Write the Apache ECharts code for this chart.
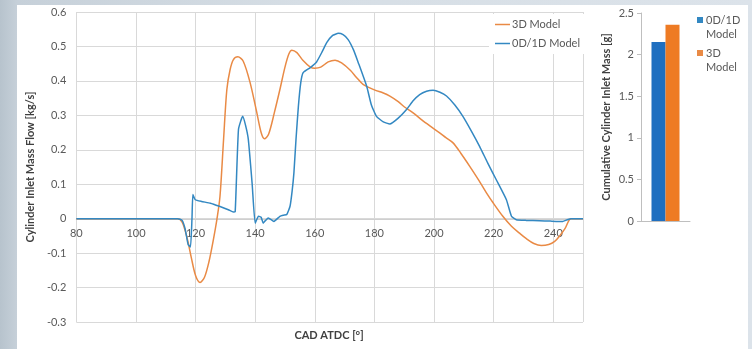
<!DOCTYPE html>
<html>
<head>
<meta charset="utf-8">
<script src="https://cdn.jsdelivr.net/npm/echarts@6/dist/echarts.min.js"></script>
<style>
	html, body { margin: 0; padding: 0; width: 752px; height: 349px; overflow: hidden; }
	body { background: linear-gradient(to right, #b7c3cd 0px, #c6d0d9 17px, #d6dee5 300px, #dce3ea 752px); }
	#echart1 { position: absolute; left: 17px; top: 5px; width: 731px; height: 344px; background: #ffffff; }
</style>
</head>
<body>
<div id="echart1"></div>
<script>
// 3D 模型曲线 (CAD, kg/s)
var cad3d = [80, 114, 115.5, 117, 118.5, 120, 121.5, 123, 124.5, 126, 127.2, 128.2, 129.4, 130.5, 131.6, 132.7, 134.2, 136, 138.3, 140.5, 142, 143.1, 144.5, 146.5, 148.3, 150, 151.3, 152.3, 154, 156, 158.4, 160, 162, 164.5, 166.8, 169, 172, 174, 176.2, 180, 183, 185.2, 188, 190, 193, 196, 198.5, 201.9, 204, 206.4, 209, 212, 215, 217.6, 220, 223.1, 226, 228.7, 231, 233.5, 236, 238.5, 240.5, 242.1, 244, 246, 250];
var flow3d = [0, 0, -0.01, -0.05, -0.11, -0.165, -0.185, -0.17, -0.125, -0.06, 0, 0.065, 0.23, 0.375, 0.433, 0.462, 0.47, 0.457, 0.395, 0.31, 0.25, 0.232, 0.245, 0.31, 0.375, 0.44, 0.478, 0.489, 0.482, 0.46, 0.441, 0.437, 0.44, 0.455, 0.46, 0.452, 0.43, 0.41, 0.39, 0.374, 0.365, 0.356, 0.34, 0.325, 0.307, 0.286, 0.27, 0.249, 0.235, 0.22, 0.19, 0.152, 0.112, 0.075, 0.044, 0.007, -0.022, -0.042, -0.058, -0.072, -0.078, -0.075, -0.066, -0.051, -0.028, 0, 0];

// 0D/1D 模型曲线
var cad1d = [80, 114, 115.5, 116.5, 117.5, 118.3, 118.8, 119.1, 119.9, 122, 125, 128, 131, 132.7, 133.3, 134.4, 135.8, 136.8, 137.7, 139, 140, 141.1, 142, 142.7, 143.5, 144.4, 146.3, 148.3, 149.5, 150.6, 151.7, 152.4, 153, 153.7, 154.5, 155.3, 156.1, 158.4, 160.6, 162.5, 164, 166, 167.9, 169.5, 171.2, 173, 174.6, 177.4, 179, 180.7, 183, 185.2, 188, 190.8, 193, 195.2, 197.5, 199.7, 202, 204.2, 207, 209.7, 212.5, 215.3, 218, 220.9, 224.3, 226, 227.6, 231, 235.4, 239, 243.2, 244.5, 246, 250];
var flow1d = [0, 0, -0.005, -0.03, -0.075, -0.082, 0, 0.07, 0.055, 0.05, 0.045, 0.036, 0.026, 0.019, 0.02, 0.259, 0.297, 0.27, 0.23, 0.1, -0.013, 0.007, 0.004, -0.013, -0.005, 0.002, -0.008, 0.007, 0.01, 0.012, 0.036, 0.08, 0.133, 0.23, 0.326, 0.395, 0.424, 0.438, 0.455, 0.485, 0.511, 0.532, 0.538, 0.534, 0.52, 0.49, 0.453, 0.385, 0.33, 0.297, 0.281, 0.275, 0.292, 0.317, 0.342, 0.36, 0.37, 0.373, 0.367, 0.356, 0.33, 0.297, 0.255, 0.21, 0.162, 0.113, 0.055, 0.007, -0.003, -0.005, -0.006, -0.007, -0.008, -0.004, 0, 0];

// 累计进气量柱状图 (g)
var barNames = ['0D/1D Model', '3D Model'];
var barValues = [2.15, 2.36];

var fontName = 'Lato';
var textColor = '#595959';
var gridColor = '#d9d9d9';

function toPairs(xs, ys) {
	var arr = [];
	for (var i = 0; i < xs.length; i++) {
		arr.push([xs[i], ys[i]]);
	}
	return arr;
}

var option = {
	animation: false,
	textStyle: { fontFamily: fontName },
	// x 轴标题 (x 轴在 0 位置，标题单独放在底部)
	title: {
		text: 'CAD ATDC [°]',
		left: 312,
		top: 325,
		textAlign: 'center',
		padding: 0,
		textStyle: { fontFamily: fontName, fontSize: 11, fontWeight: 'bold', color: '#404040' }
	},
	grid: [
		{ left: 59, top: 7, width: 507, height: 310 },// 左边折线图
		{ left: 624, top: 8, width: 49, height: 208 }// 右边柱状图
	],
	legend: [{
		orient: 'vertical',
		left: 472,
		top: 9,
		padding: [5, 6, 5, 6],
		backgroundColor: '#ffffff',
		itemGap: 8,
		itemWidth: 15,
		itemHeight: 1.5,
		icon: 'rect',
		data: ['3D Model', '0D/1D Model'],
		textStyle: { fontFamily: fontName, fontSize: 11, color: textColor, padding: [0, 0, 0, -3] }
	}, {
		orient: 'vertical',
		left: 680,
		top: 8,
		padding: 0,
		itemGap: 5,
		itemWidth: 6,
		itemHeight: 20,
		icon: 'path://M0,0H10V10H0Z M0,33.3H0.01V33.31H0Z',
		data: barNames,
		formatter: function(name) {
			return name.replace(' ', '\n');
		},
		textStyle: { fontFamily: fontName, fontSize: 11, lineHeight: 14, color: textColor, padding: [0, 0, 0, -2] }
	}],
	xAxis: [{
		gridIndex: 0,
		type: 'value',
		min: 80,
		max: 250,
		interval: 20,
		offset: -103,// 把轴移到 y=0 的位置 (310/0.9*0.3)
		axisLine: { show: true, onZero: false, lineStyle: { color: '#cfcfcf', width: 1 } },
		axisTick: { show: false },
		axisLabel: { showMaxLabel: false, margin: 9, fontSize: 11, color: textColor, fontFamily: fontName },
		splitLine: { show: true, lineStyle: { color: gridColor } }
	}, {
		gridIndex: 1,
		type: 'category',
		data: [''],
		axisLine: { show: true, lineStyle: { color: '#bfbfbf' } },
		axisTick: { show: false },
		axisLabel: { show: false }
	}],
	yAxis: [{
		gridIndex: 0,
		type: 'value',
		min: -0.3,
		max: 0.6,
		interval: 0.1,
		axisLine: { show: false },
		axisTick: { show: false },
		axisLabel: {
			margin: 10,
			fontSize: 11,
			color: textColor,
			fontFamily: fontName,
			formatter: function(v) {
				return String(Math.round(v * 10) / 10);
			}
		},
		splitLine: { show: true, lineStyle: { color: gridColor } },
		name: 'Cylinder Inlet Mass Flow [kg/s]',
		nameLocation: 'middle',
		nameGap: 33,
		nameTextStyle: { fontFamily: fontName, fontSize: 11, fontWeight: 'bold', color: '#404040' }
	}, {
		gridIndex: 1,
		type: 'value',
		min: 0,
		max: 2.5,
		interval: 0.5,
		axisLine: { show: true, lineStyle: { color: '#bfbfbf' } },
		axisTick: { show: true, length: 4, lineStyle: { color: '#bfbfbf' } },
		axisLabel: { margin: 7, fontSize: 11, color: textColor, fontFamily: fontName },
		splitLine: { show: false },
		name: 'Cumulative Cylinder Inlet Mass [g]',
		nameLocation: 'middle',
		nameGap: 29,
		nameTextStyle: { fontFamily: fontName, fontSize: 11, fontWeight: 'bold', color: '#404040' }
	}],
	series: [{
		name: '3D Model',
		type: 'line',
		xAxisIndex: 0,
		yAxisIndex: 0,
		data: toPairs(cad3d, flow3d),
		smooth: 0.3,
		showSymbol: false,
		symbol: 'none',
		color: '#e98a45',
		lineStyle: { width: 1.5, color: '#e98a45' },
		z: 3
	}, {
		name: '0D/1D Model',
		type: 'line',
		xAxisIndex: 0,
		yAxisIndex: 0,
		data: toPairs(cad1d, flow1d),
		smooth: 0.15,
		showSymbol: false,
		symbol: 'none',
		color: '#3388c2',
		lineStyle: { width: 1.5, color: '#3388c2' },
		z: 4
	}, {
		name: barNames[0],
		type: 'bar',
		xAxisIndex: 1,
		yAxisIndex: 1,
		data: [barValues[0]],
		barWidth: 14,
		barGap: '0%',
		color: '#1f6fc0',
		itemStyle: { color: '#1f6fc0' }
	}, {
		name: barNames[1],
		type: 'bar',
		xAxisIndex: 1,
		yAxisIndex: 1,
		data: [barValues[1]],
		barWidth: 14,
		barGap: '0%',
		color: '#ee7b24',
		itemStyle: { color: '#ee7b24' }
	}]
};

var myCharts1 = echarts.init(document.getElementById('echart1'));
myCharts1.setOption(option, true);
</script>
</body>
</html>
